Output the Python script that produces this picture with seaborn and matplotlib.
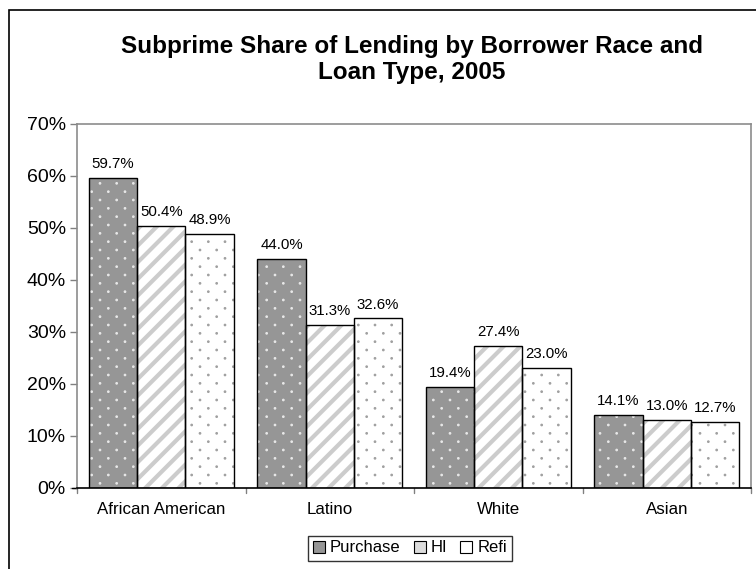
import matplotlib
matplotlib.use("Agg")
import numpy as np
import matplotlib.pyplot as plt
from matplotlib import hatch as mhatch
from matplotlib.path import Path
from matplotlib.patches import Rectangle, Patch
import seaborn as sns
import pandas as pd

# Subprime share of lending (%) by borrower race and loan type, 2005
races = ["African American", "Latino", "White", "Asian"]
loan_types = ["Purchase", "HI", "Refi"]
purchase = [59.7, 44.0, 19.4, 14.1]
hi = [50.4, 31.3, 27.4, 13.0]
refi = [48.9, 32.6, 23.0, 12.7]
y_ticks = [0, 10, 20, 30, 40, 50, 60, 70]

df = pd.DataFrame({
    "race": races * 3,
    "loan": [t for t in loan_types for _ in races],
    "share": purchase + hi + refi,
})


class StaggeredDots(mhatch.HatchPatternBase):
    """Small dots on a staggered lattice: rows twice as dense as columns."""

    radius = 0.008

    def __init__(self, hatch, density):
        n = hatch.count("*") * density
        circle = Path.unit_circle()
        self._verts = circle.vertices
        self._codes = circle.codes
        centres = []
        if n:
            for r in range(2 * n + 1):
                y = r / (2 * n)
                if r % 2 == 0:
                    xs = np.arange(n + 1) / n
                else:
                    xs = (np.arange(n) + 0.5) / n
                centres += [(x, y) for x in xs]
        self._centres = np.array(centres).reshape(-1, 2)
        self.num_vertices = len(self._centres) * len(self._verts)

    def set_vertices_and_codes(self, vertices, codes):
        vertices[:] = np.concatenate(
            [self._verts * self.radius + c for c in self._centres])
        codes[:] = np.tile(self._codes, len(self._centres))


# use '*' as the staggered-dot pattern
mhatch._hatch_types = [t for t in mhatch._hatch_types
                       if t is not mhatch.Stars] + [StaggeredDots]

sns.set_theme(style="white")
plt.rcParams["font.family"] = ["Liberation Sans", "DejaVu Sans"]
plt.rcParams.update({"text.color": "black", "axes.labelcolor": "black",
                     "xtick.color": "black", "ytick.color": "black"})

fig = plt.figure(figsize=(7.56, 5.69), dpi=100)
ax = fig.add_axes([77 / 756, 1 - 488 / 569, 674 / 756, 364 / 569])

sns.barplot(data=df, x="race", y="share", hue="loan", order=races,
            hue_order=loan_types, width=0.86, gap=0, ax=ax,
            palette=["#969696", "white", "white"], saturation=1,
            legend=False, errorbar=None)

# fill styles per loan type: (face, hatch, hatch colour, hatch width)
styles = {
    "Purchase": ("#969696", "*", "#e8e8e8", 0.8),
    "HI": ("white", "//", "#cccccc", 3.0),
    "Refi": ("white", "*", "#a0a0a0", 0.8),
}

bars = list(ax.patches)
for i, bar in enumerate(bars):
    loan = loan_types[i // len(races)]
    face, hatch, hcol, hlw = styles[loan]
    x0, y0 = bar.get_x(), bar.get_y()
    w, h = bar.get_width(), bar.get_height()
    with plt.rc_context({"hatch.linewidth": hlw, "hatch.color": hcol}):
        bar.set_facecolor(face)
        bar.set_edgecolor(hcol)
        bar.set_linewidth(0)
        bar.set_hatch(hatch)
        if hasattr(bar, "set_hatch_linewidth"):
            bar.set_hatch_linewidth(hlw)
    ax.add_patch(Rectangle((x0, y0), w, h, facecolor="none",
                           edgecolor="black", linewidth=1.0, zorder=3))
    ax.annotate(f"{h:.1f}%", (x0 + w / 2, h), xytext=(0, 5),
                textcoords="offset points", ha="center", va="bottom",
                fontsize=10.8, color="black")

ax.set_xlim(-0.5, len(races) - 0.5)
ax.set_ylim(0, 70)
ax.set_yticks(y_ticks)
ax.set_yticklabels([f"{v}%" for v in y_ticks], fontsize=14)
ax.set_xticks(range(len(races)))
ax.set_xticklabels(races, fontsize=12.2)
ax.tick_params(axis="x", length=0, pad=10, labelcolor="black")
ax.tick_params(axis="y", length=5, width=1, color="#808080", direction="out",
               left=True, pad=3, labelcolor="black")
ax.set_xlabel("")
ax.set_ylabel("")

# category separator ticks below the axis
for b in [i - 0.5 for i in range(len(races) + 1)]:
    ax.plot([b, b], [0, -1.0], color="#808080", lw=1, clip_on=False)

for side in ["top", "right", "left"]:
    ax.spines[side].set_visible(True)
    ax.spines[side].set_color("#8c8c8c")
    ax.spines[side].set_linewidth(1.2)
ax.spines["bottom"].set_color("black")
ax.spines["bottom"].set_linewidth(1.2)
ax.plot([-0.53, -0.5], [0, 0], color="black", lw=1, clip_on=False)

fig.text(412 / 756, 1 - 46 / 569, "Subprime Share of Lending by Borrower Race and",
         ha="center", va="center", fontsize=17.5, fontweight="bold",
         color="black")
fig.text(412 / 756, 1 - 73 / 569, "Loan Type, 2005",
         ha="center", va="center", fontsize=17.5, fontweight="bold",
         color="black")

handles = [
    Patch(facecolor="#969696", edgecolor="black", linewidth=0.8),
    Patch(facecolor="#dcdcdc", edgecolor="black", linewidth=0.8),
    Patch(facecolor="white", edgecolor="black", linewidth=0.8),
]
leg = fig.legend(handles, loan_types, loc="center", ncol=3,
                 bbox_to_anchor=(410 / 756, 1 - 548 / 569), fontsize=12,
                 frameon=True, fancybox=False, handlelength=0.7,
                 handleheight=0.7, handletextpad=0.3, columnspacing=0.8,
                 borderpad=0.3, borderaxespad=0)
leg.get_frame().set_edgecolor("black")
leg.get_frame().set_linewidth(1.0)

# outer chart border (runs off the right and bottom edges)
fig.add_artist(Rectangle((9 / 756, -0.05), 1.0, 1 - 10 / 569 + 0.05,
                         transform=fig.transFigure, facecolor="none",
                         edgecolor="black", linewidth=1.2))

fig.savefig("out.png", dpi=100)
